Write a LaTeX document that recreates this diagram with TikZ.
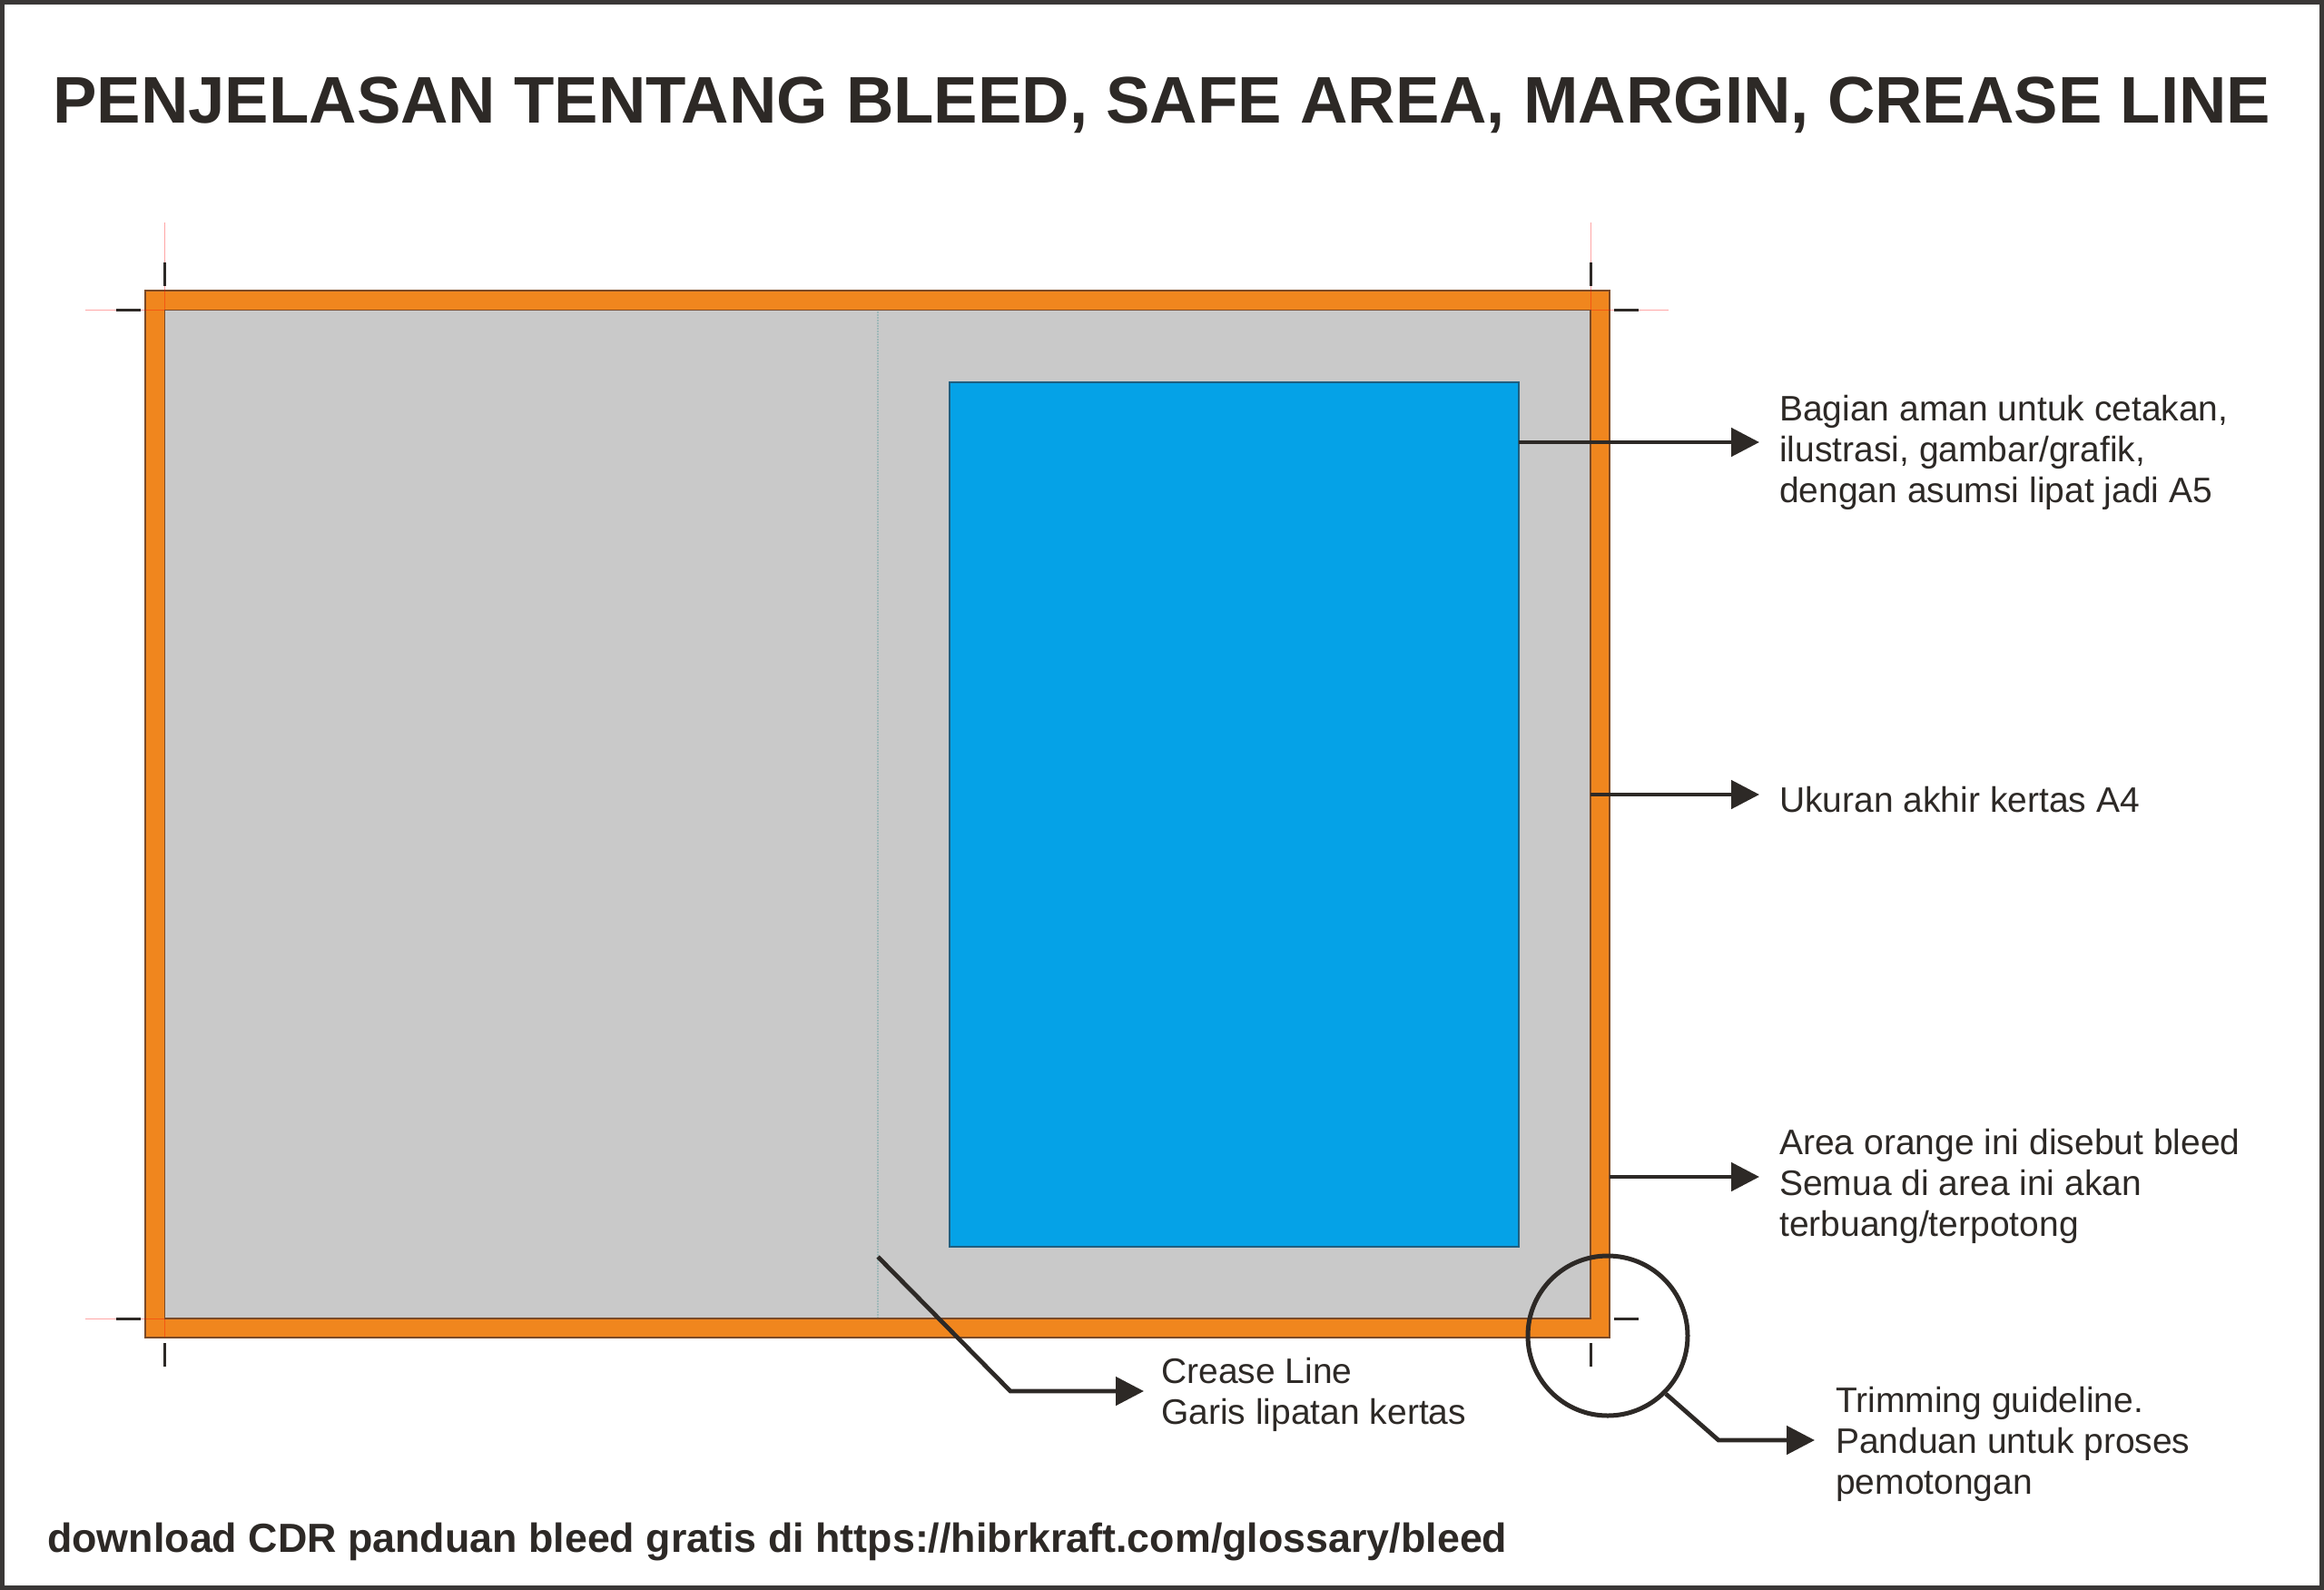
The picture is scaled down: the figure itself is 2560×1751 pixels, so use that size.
\documentclass[tikz,border=0pt]{standalone}
\usepackage{fontspec}
\setmainfont{Liberation Sans}
\usetikzlibrary{arrows.meta}
\definecolor{ink}{HTML}{2D2926}
\definecolor{framegray}{HTML}{3A3736}
\definecolor{bleedorange}{HTML}{F0861E}
\definecolor{papergray}{HTML}{C9C9C9}
\definecolor{safeblue}{HTML}{05A2E7}
\definecolor{edgebrown}{HTML}{7A4A28}
\definecolor{blueedge}{HTML}{1F5F80}
\definecolor{creasecol}{HTML}{9FB8B8}
\begin{document}
\begin{tikzpicture}[x=1pt,y=-1pt,
  callout/.style={line width=4.8pt, draw=ink, -{Triangle[length=31pt,width=31pt]}},
  label/.style={font=\fontsize{39}{45}\selectfont, text=ink, align=left, inner sep=0pt, anchor=north west},
  cropmark/.style={line width=3pt, draw=ink},
  guide/.style={line width=1pt, draw=red, draw opacity=0.35},
  boxedge/.style={line width=1.2pt}]
\useasboundingbox (0,0) rectangle (2560,1751);
\draw[line width=5pt, draw=framegray] (2.5,2.5) rectangle (2557.5,1748.5);

\node[font=\fontsize{72.6}{80}\selectfont\bfseries, text=ink, inner sep=0pt, anchor=base west] (title) at (58,135)
  {PENJELASAN TENTANG BLEED, SAFE AREA, MARGIN, CREASE LINE};

% bleed area and trimmed paper
\filldraw[fill=bleedorange, draw=edgebrown, boxedge] (160,320) rectangle (1773,1473);
\draw[guide] (181.5,245) -- (181.5,341.5);
\draw[guide] (94,341.5) -- (181.5,341.5);
\draw[guide] (1752,245) -- (1752,341.5);
\draw[guide] (1752,341.5) -- (1838,341.5);
\draw[guide] (94,1452) -- (181.5,1452) -- (181.5,1473);
\filldraw[fill=papergray, draw=edgebrown, boxedge] (181.5,341.5) rectangle (1752,1452);

% crease line
\draw[draw=creasecol, line width=1.2pt, dash pattern=on 1.5pt off 1.5pt] (967,343) -- (967,1451);

% safe area
\filldraw[fill=safeblue, draw=blueedge, boxedge] (1046,421) rectangle (1673,1373);

% crop marks
\draw[cropmark] (181.5,289) -- (181.5,315);
\draw[cropmark] (128,341.5) -- (155,341.5);
\draw[cropmark] (1752,289) -- (1752,315);
\draw[cropmark] (1778,341.5) -- (1805,341.5);
\draw[cropmark] (128,1452) -- (155,1452);
\draw[cropmark] (181.5,1479) -- (181.5,1505);
\draw[cropmark] (1778,1452) -- (1805,1452);
\draw[cropmark] (1752,1479) -- (1752,1505);

% loupe
\node[circle, draw=ink, line width=5pt, minimum size=176pt, inner sep=0pt] (loupe) at (1771,1471) {};

% connector anchors
\coordinate (safeR) at (1673,487);
\coordinate (safeT) at (1938,487);
\coordinate (trimR) at (1752,875);
\coordinate (trimT) at (1938,875);
\coordinate (bleedR) at (1773,1296);
\coordinate (bleedT) at (1938,1296);
\coordinate (creaseS) at (967,1384);
\coordinate (creaseB) at (1113,1532);
\coordinate (creaseT) at (1260,1532);
\coordinate (loupeB) at (1893,1586);
\coordinate (loupeT) at (1999,1586);

\draw[callout] (safeR) -- (safeT);
\draw[callout] (trimR) -- (trimT);
\draw[callout] (bleedR) -- (bleedT);
\draw[callout] (creaseS) -- (creaseB) -- (creaseT);
\draw[callout] (loupe.-45) -- (loupeB) -- (loupeT);

% labels
\node[label] (safeL) at (1960,435) {Bagian aman untuk cetakan,\\ilustrasi, gambar/grafik,\\dengan asumsi lipat jadi A5};
\node[label, anchor=base west] (trimL) at (1960,894) {Ukuran akhir kertas A4};
\node[label] (bleedL) at (1960,1243) {Area orange ini disebut bleed\\Semua di area ini akan\\terbuang/terpotong};
\node[label] (creaseL) at (1279,1495) {Crease Line\\Garis lipatan kertas};
\node[label] (loupeL) at (2022,1527) {Trimming guideline.\\Panduan untuk proses\\pemotongan};

\node[font=\fontsize{44.8}{50}\selectfont\bfseries, text=ink, inner sep=0pt, anchor=base west] (footer) at (52,1709)
  {download CDR panduan bleed gratis di https://hibrkraft.com/glossary/bleed};
\end{tikzpicture}
\end{document}
